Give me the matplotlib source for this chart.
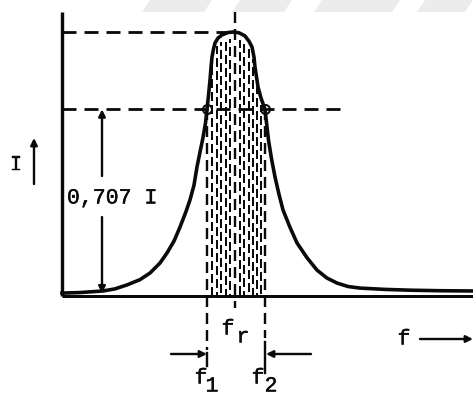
import numpy as np
import matplotlib.pyplot as plt
import matplotlib.patheffects as pe

plt.rcParams['lines.scale_dashes'] = False
plt.rcParams['font.family'] = ['Liberation Mono', 'DejaVu Sans Mono']

# resonance curve, frequency in drawing units, current relative to the peak
freq = [62, 80, 95, 103, 115, 127, 140, 150, 160, 167, 174, 180, 186, 190,
        194, 197, 200, 203, 205.5, 207, 208.5, 210, 211, 212, 213.5, 215, 218,
        222, 228, 233, 239, 245, 249, 252, 254, 255, 256.5, 258, 261, 265,
        268.5, 271.5, 275, 279, 283, 290, 297, 307, 317, 327, 337, 348, 360,
        385, 410, 440, 473]
current = [0.011, 0.013, 0.017, 0.019, 0.027, 0.042, 0.062, 0.087, 0.125,
           0.163, 0.208, 0.261, 0.320, 0.364, 0.420, 0.489, 0.545, 0.600,
           0.655, 0.707, 0.760, 0.818, 0.865, 0.905, 0.935, 0.958, 0.977,
           0.989, 0.998, 1.0, 0.997, 0.985, 0.965, 0.943, 0.905, 0.867, 0.830,
           0.792, 0.750, 0.707, 0.590, 0.520, 0.451, 0.385, 0.326, 0.260,
           0.201, 0.145, 0.098, 0.068, 0.049, 0.036, 0.030, 0.025, 0.022,
           0.020, 0.019]

f_r = 235
f_1 = 207
f_2 = 265
level = 0.707
hatch_freqs = [212, 217, 221, 226, 230, 240, 244, 249, 253, 257, 261]

fig = plt.figure(figsize=(4.73, 3.98), dpi=100)
ax = fig.add_axes([0, 0, 1, 1])
ax.set_xlim(0, 473)
ax.set_ylim(-102 / 264, 296 / 264)
ax.axis('off')


def py(y):
    # pixel row -> current units
    return (296 - y) / 264


PX = 0.72  # one pixel in points
black = '#0a0a0a'

# faint stamp across the top edge
for x0, x1 in [(150, 212), (240, 292), (322, 400), (425, 473)]:
    ax.fill([x0, x1, x1 - 8, x0 - 8], [py(0), py(0), py(12), py(12)],
            color='#ececec', lw=0, zorder=0)

# axes
ax.plot([62, 62], [0, py(12)], color=black, lw=3.4 * PX, solid_capstyle='butt')
ax.plot([62, 473], [0, 0], color=black, lw=3 * PX, solid_capstyle='butt')

# curve
ax.plot(freq, current, color=black, lw=3.6 * PX, solid_joinstyle='round')

# shaded band between f1 and f2
dash_h = (9 * PX, 4 * PX)
for i, f in enumerate(hatch_freqs):
    top = np.interp(f, freq, current) - 0.025
    ax.plot([f, f], [0, top], color=black, lw=2 * PX,
            linestyle=((i * 5) % 13 * PX, dash_h))

# horizontal reference lines
dash_l = (0, (14 * PX, 8 * PX))
ax.plot([62, f_r - 6], [1.0, 1.0], color=black, lw=2.8 * PX, linestyle=dash_l)
ax.plot([62, 348], [level, level], color=black, lw=2.8 * PX, linestyle=dash_l)

# vertical lines at f_r, f1, f2
dash_v = (0, (11 * PX, 6 * PX))
ax.plot([f_r, f_r], [py(12), py(308)], color=black, lw=2.4 * PX, linestyle=dash_v)
ax.plot([f_1, f_1], [level, py(350)], color=black, lw=2.4 * PX, linestyle=dash_v)
ax.plot([f_2, f_2], [level, py(338)], color=black, lw=2.4 * PX, linestyle=dash_v)
ax.plot([f_1, f_1], [py(353), py(366)], color=black, lw=2.4 * PX)
ax.plot([f_2, f_2], [py(342), py(373)], color=black, lw=2.4 * PX)

# half-power points
ax.plot([f_1, f_2], [level, level], 'o', ms=9 * PX, mfc='none', mec=black,
        mew=2 * PX)

arrow = dict(arrowstyle='-|>', lw=2.4 * PX, color=black, mutation_scale=10,
             shrinkA=0, shrinkB=0)
ax.annotate('', xy=(34, py(138)), xytext=(34, py(184)), arrowprops=arrow)
ax.annotate('', xy=(102, level), xytext=(102, py(176)), arrowprops=arrow)
ax.annotate('', xy=(102, 0.01), xytext=(102, py(217)), arrowprops=arrow)
ax.annotate('', xy=(f_1, py(354)), xytext=(171, py(354)), arrowprops=arrow)
ax.annotate('', xy=(f_2 + 1, py(354)), xytext=(311, py(354)), arrowprops=arrow)
ax.annotate('', xy=(473, py(339)), xytext=(420, py(339)), arrowprops=arrow)

fs = 15.5
tkw = dict(color=black, fontsize=fs, ha='center', va='center',
           path_effects=[pe.withStroke(linewidth=0.3, foreground=black)])
ax.text(16, py(165), 'I', **tkw)
ax.text(112, py(198), '0,707 I', **tkw)
ax.text(228, py(329), 'f', **tkw)
ax.text(243, py(337), 'r', **tkw)
ax.text(201, py(378), 'f', **tkw)
ax.text(212, py(386), '1', **tkw)
ax.text(258, py(378), 'f', **tkw)
ax.text(271, py(386), '2', **tkw)
ax.text(404, py(339), 'f', **tkw)

fig.savefig('out.png', dpi=100)
